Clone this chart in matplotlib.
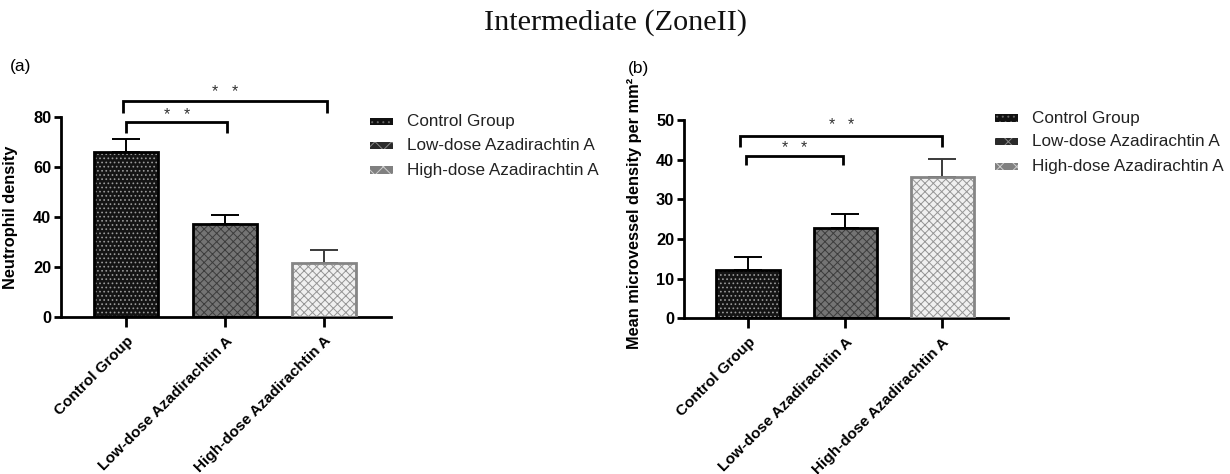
import matplotlib
matplotlib.use("Agg")
import matplotlib.pyplot as plt
from matplotlib.patches import Rectangle

# ---------------- data ----------------
groups = ["Control Group", "Low-dose Azadirachtin A", "High-dose Azadirachtin A"]
neutro_mean = [66.1, 37.2, 21.7]
neutro_err = [4.9, 3.6, 5.0]
mvd_mean = [12.2, 22.8, 35.7]
mvd_err = [3.3, 3.6, 4.5]
title = "Intermediate (ZoneII)"
ylabel_a = "Neutrophil density"
ylabel_b = "Mean microvessel density per mm\u00b2"
yticks_a = [0, 20, 40, 60, 80]
yticks_b = [0, 10, 20, 30, 40, 50]
# significance brackets: (x_left, x_right, top, leg_bottom, star_y)
sig_a = [(0.0, 1.02, 78.1, 73.7, 81.0), (-0.03, 2.03, 86.4, 81.6, 90.0)]
sig_b = [(-0.02, 0.98, 40.9, 38.6, 43.0), (-0.08, 2.0, 46.0, 43.2, 48.8)]
sig_text = "*"

# ---------------- style ----------------
fills = ["#141414", "#747474", "#f0f0f0"]
hatch_cols = ["#9a9a9a", "#3c3c3c", "#959595"]
hatches = ["....", "xxxx", "xxxx"]
edges = ["#000000", "#000000", "#858585"]
err_cols = ["#000000", "#000000", "#3a3a3a"]

plt.rcParams["hatch.linewidth"] = 0.7
plt.rcParams["font.family"] = ["Liberation Sans", "DejaVu Sans"]

W, H = 1230, 474
fig = plt.figure(figsize=(W / 100, H / 100), dpi=100)


def px_ax(l, r, b, t):
    return fig.add_axes([l / W, 1 - b / H, (r - l) / W, (b - t) / H])


ax_a = px_ax(61, 391, 317, 117)
ax_b = px_ax(684, 1008, 318.3, 120)

x = list(range(len(groups)))
bw = 0.65


def draw_panel(ax, means, errs, yticks, ylabel, sigs, label_y):
    ax.bar(x, means, bw, color=fills, edgecolor=hatch_cols, hatch=hatches,
           linewidth=0, zorder=2)
    ax.bar(x, means, bw, fill=False, edgecolor=edges, linewidth=2.0, zorder=3)
    for i in x:
        ax.errorbar(i, means[i], yerr=[[0], [errs[i]]], fmt="none",
                    ecolor=err_cols[i], elinewidth=1.4, capsize=10,
                    capthick=1.4, zorder=1)
    ax.set_xlim(-0.66, 2.68)
    ax.set_ylim(yticks[0], yticks[-1])
    ax.set_yticks(yticks)
    ax.set_xticks(x)
    ax.set_xticklabels(groups, rotation=45, ha="right", va="top",
                       rotation_mode="anchor", fontweight="bold", fontsize=11.1)
    for lab in ax.get_yticklabels():
        lab.set_fontweight("bold")
        lab.set_fontsize(11.8)
    for s in ["top", "right"]:
        ax.spines[s].set_visible(False)
    for s in ["left", "bottom"]:
        ax.spines[s].set_linewidth(2.0)
    ax.tick_params(axis="both", width=2.0, length=5, pad=2, color="black")
    ax.tick_params(axis="x", length=7, pad=5)
    ax.set_ylabel(ylabel, fontweight="bold", fontsize=11.8)
    ax.yaxis.set_label_coords(-0.13, label_y)
    ax.patch.set_alpha(0)
    dx = 0.1
    for (xl, xr, top, leg, sy) in sigs:
        ax.plot([xl, xl, xr, xr], [leg, top, top, leg], color="black",
                lw=2.0, clip_on=False, solid_joinstyle="miter",
                solid_capstyle="butt")
        xm = (xl + xr) / 2
        for xs in (xm - dx, xm + dx):
            ax.text(xs, sy, sig_text, ha="center", va="center", fontsize=11.5,
                    color="#333333", clip_on=False)


draw_panel(ax_a, neutro_mean, neutro_err, yticks_a, ylabel_a, sig_a, 0.5)
draw_panel(ax_b, mvd_mean, mvd_err, yticks_b, ylabel_b, sig_b, 0.527)

# title and panel labels
fig.text(0.5, 1 - 23 / H, title, ha="center", va="center",
         family="Liberation Serif", fontsize=21.8, color="#111111")
fig.text(10 / W, 1 - 66 / H, "(a)", ha="left", va="center", fontsize=12.5)
fig.text(628 / W, 1 - 69 / H, "(b)", ha="left", va="center", fontsize=12.5)


# legends
def draw_legend(x0, x1, xt, rows):
    for i, yc in enumerate(rows):
        hgt = 7
        r = Rectangle((x0 / W, 1 - (yc + hgt / 2) / H), (x1 - x0) / W, hgt / H,
                      transform=fig.transFigure, facecolor=["#111111", "#2a2a2a", "#808080"][i],
                      edgecolor=["#666666", "#888888", "#cfcfcf"][i],
                      hatch=["...", "xx", "xx"][i], linewidth=0)
        fig.patches.append(r)
        fig.text(xt / W, 1 - yc / H, groups[i], ha="left", va="center",
                 fontsize=12.3, color="#222222")


draw_legend(370, 393, 407, [121.7, 145.3, 170])
draw_legend(995, 1018, 1032, [118, 141.7, 166.7])

fig.savefig("out.png", dpi=100)
